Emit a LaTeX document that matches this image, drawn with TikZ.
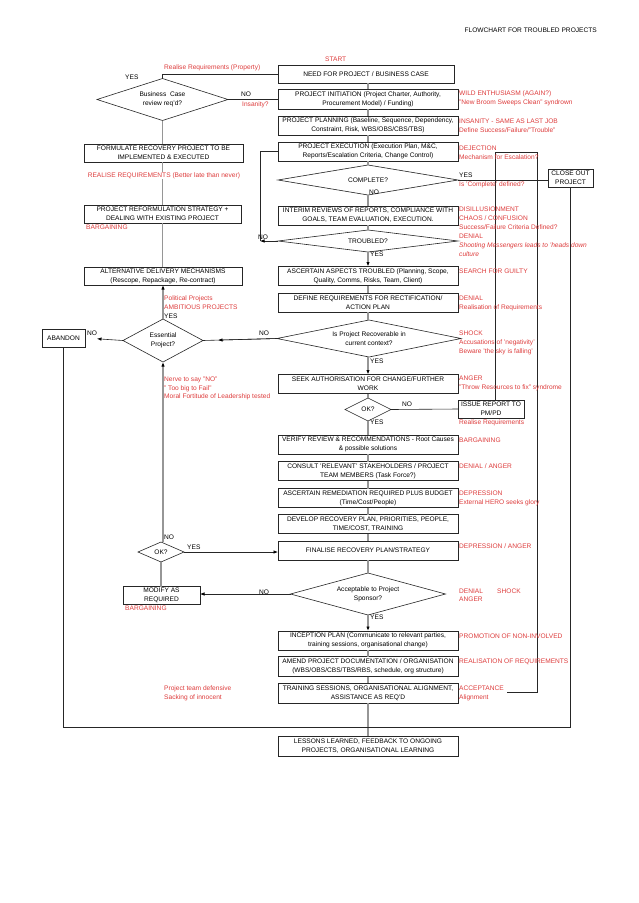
\documentclass[tikz,border=0pt]{standalone}
\usepackage{fontspec}
\setmainfont{Liberation Sans}
\usetikzlibrary{shapes.geometric,arrows.meta}
\definecolor{rd}{RGB}{222,60,60}
\definecolor{trunkgray}{RGB}{150,150,150}
\newcommand\redlab[4]{\node[lbl] (#1) at (#2,#3+2.4) {#4};}
\newcommand\blklab[4]{\node[blbl] (#1) at (#2,#3+2.4) {#4};}
\tikzset{
  fnt/.style={font=\fontsize{6.6}{9.2}\selectfont},
  box/.style={draw=black!85, line width=0.6pt, fnt, align=center, inner sep=0pt, outer sep=0pt, minimum width=180pt, minimum height=19pt},
  dia/.style={draw=black!85, line width=0.6pt, diamond, fnt, align=center, inner sep=0pt, outer sep=0pt},
  lbl/.style={fnt, text=rd, anchor=base west, inner sep=0pt},
  blbl/.style={fnt, text=black, anchor=base west, inner sep=0pt},
  trunk/.style={draw=trunkgray, line width=1.1pt},
  conn/.style={draw=black!85, line width=0.6pt},
  arr/.style={-{Latex[length=4.5pt,width=3.4pt,color=black]}},
}
\begin{document}
\begin{tikzpicture}[x=1pt,y=-1pt]
\fill[white] (0,0) rectangle (638,903);
\useasboundingbox (0,0) rectangle (638,903);

\node[fnt, anchor=base east, inner sep=0pt] (title) at (597,32.4) {FLOWCHART FOR TROUBLED PROJECTS};

% ---------- main column ----------
\node[box, minimum width=176pt, minimum height=18pt] (need) at (366,74) {NEED FOR PROJECT / BUSINESS CASE};
\node[box, minimum height=20pt] (init) at (368,99) {PROJECT INITIATION (Project Charter, Authority,\\Procurement Model) / Funding)};
\node[box] (plan) at (368,125.5) {PROJECT PLANNING (Baseline, Sequence, Dependency,\\Constraint, Risk, WBS/OBS/CBS/TBS)};
\node[box] (exec) at (368,151.5) {PROJECT EXECUTION (Execution Plan, M\&C,\\Reports/Escalation Criteria, Change Control)};
\node[dia, aspect=6, minimum width=180pt, minimum height=30pt] (complete) at (368,180) {COMPLETE?};
\node[box] (interim) at (368,215.5) {INTERIM REVIEWS OF REPORTS, COMPLIANCE WITH\\GOALS, TEAM EVALUATION, EXECUTION.};
\node[dia, aspect=8, minimum width=180pt, minimum height=22pt] (troubled) at (368,241) {TROUBLED?};
\node[box] (ascert) at (368,276) {ASCERTAIN ASPECTS TROUBLED (Planning, Scope,\\Quality, Comms, Risks, Team, Client)};
\node[box] (define) at (368,302.5) {DEFINE REQUIREMENTS FOR RECTIFICATION/\\ACTION PLAN};
\node[dia, aspect=5, minimum width=184pt, minimum height=37pt] (recov) at (369,338.5) {Is Project Recoverable in\\current context?};
\node[box] (seek) at (368,384) {SEEK AUTHORISATION FOR CHANGE/FURTHER\\WORK};
\node[dia, aspect=2, minimum width=46pt, minimum height=23pt] (ok1) at (368,409.5) {OK?};
\node[box, minimum width=66pt, minimum height=18pt] (issue) at (491,409) {ISSUE REPORT TO\\PM/PD};
\node[box] (verify) at (368,444.5) {VERIFY REVIEW \& RECOMMENDATIONS - Root Causes\\\& possible solutions};
\node[box] (consult) at (368,471) {CONSULT 'RELEVANT' STAKEHOLDERS / PROJECT\\TEAM MEMBERS (Task Force?)};
\node[box] (remed) at (368,498) {ASCERTAIN REMEDIATION REQUIRED PLUS BUDGET\\(Time/Cost/People)};
\node[box] (develop) at (368,524) {DEVELOP RECOVERY PLAN, PRIORITIES, PEOPLE,\\TIME/COST, TRAINING};
\node[box] (finalise) at (368,550.5) {FINALISE RECOVERY PLAN/STRATEGY};
\node[dia, aspect=4, minimum width=155pt, minimum height=42pt] (accept) at (368,594) {Acceptable to Project\\Sponsor?};
\node[box] (inception) at (368,640.5) {INCEPTION PLAN (Communicate to relevant parties,\\training sessions, organisational change)};
\node[box, minimum height=20pt] (amend) at (368,666.5) {AMEND PROJECT DOCUMENTATION / ORGANISATION\\(WBS/OBS/CBS/TBS/RBS, schedule, org structure)};
\node[box, minimum height=20pt] (training) at (368,693) {TRAINING SESSIONS, ORGANISATIONAL ALIGNMENT,\\ASSISTANCE AS REQ'D};
\node[box, minimum height=20pt] (lessons) at (368,746) {LESSONS LEARNED, FEEDBACK TO ONGOING\\PROJECTS, ORGANISATIONAL LEARNING};

% ---------- left column ----------
\node[dia, aspect=3, minimum width=131pt, minimum height=42pt] (bc) at (162.5,99.5) {Business\ \ Case\\review req'd?};
\node[box, minimum width=159pt, minimum height=18pt] (formulate) at (163.5,153) {FORMULATE RECOVERY PROJECT TO BE\\IMPLEMENTED \& EXECUTED};
\node[box, minimum width=157pt, minimum height=18pt] (reform) at (162.5,214) {PROJECT REFORMULATION STRATEGY +\\DEALING WITH EXISTING PROJECT};
\node[box, minimum width=158pt, minimum height=18pt] (alt) at (163,276) {ALTERNATIVE DELIVERY MECHANISMS\\(Rescope, Repackage, Re-contract)};
\node[dia, aspect=2, minimum width=80pt, minimum height=43pt] (ess) at (163,340.5) {Essential\\Project?};
\node[box, minimum width=43pt, minimum height=18pt] (abandon) at (63.5,338) {ABANDON};
\node[dia, aspect=2, minimum width=46pt, minimum height=20pt] (ok2) at (161,552) {OK?};
\node[box, minimum width=77pt, minimum height=18pt, font=\fontsize{6.6}{8.6}\selectfont] (modify) at (161.5,595.5) {MODIFY AS\\REQUIRED};
\node[box, minimum width=45pt, minimum height=18pt] (closeout) at (570.5,178) {CLOSE OUT\\PROJECT};

% ---------- trunk connectors ----------
\draw[trunk] (init.north) -- (init.north |- need.south);
\draw[trunk] (init.south) -- (plan.north);
\draw[trunk] (plan.south) -- (exec.north);
\draw[trunk] (exec.south) -- (complete.north);
\draw[trunk] (complete.south) -- (interim.north);
\draw[trunk] (interim.south) -- (troubled.north);
\draw[trunk, arr] (troubled.south) -- (ascert.north);
\draw[trunk] (ascert.south) -- (define.north);
\draw[trunk] (define.south) -- (define.south |- recov.north);
\draw[trunk, arr] (seek.north |- recov.south) -- (seek.north);
\draw[trunk] (seek.south) -- (ok1.north);
\draw[trunk] (ok1.south) -- (verify.north);
\draw[trunk] (verify.south) -- (consult.north);
\draw[trunk] (consult.south) -- (remed.north);
\draw[trunk] (remed.south) -- (develop.north);
\draw[trunk] (develop.south) -- (finalise.north);
\draw[trunk] (finalise.south) -- (accept.north);
\draw[trunk, arr] (accept.south) -- (inception.north);
\draw[trunk] (inception.south) -- (amend.north);
\draw[trunk] (amend.south) -- (training.north);
\draw[trunk] (training.south) -- (lessons.north);

% left trunk
\draw[trunk] (bc.south) -- (bc.south |- formulate.north);
\draw[trunk] (bc.south |- formulate.south) -- (bc.south |- reform.north);
\draw[trunk] (bc.south |- reform.south) -- (bc.south |- alt.north);
\draw[trunk, arr] (ess.north) -- (ess.north |- alt.south);
\draw[trunk, arr] (ok2.north -| ess.south) -- (ess.south);
\draw[trunk] (modify.north -| ok2.south) -- (ok2.south);

% ---------- other connectors ----------
\draw[conn] (bc.north) |- (need.west);
\draw[conn] (bc.east) -- (bc.east -| init.west);
\draw[conn] (complete.east) -- (complete.east -| closeout.west);
\coordinate (tl) at (260,241);
\draw[conn, arr] (troubled.west) -- (tl);
\draw[conn] (tl) |- (exec.west);
\draw[conn] (recov.west) -- (ess.east);
\draw[conn, arr, shorten >=15pt] (recov.west) -- (ess.east);
\draw[conn, arr, shorten >=12pt] (ess.west) -- (abandon.east);
\draw[conn] (ok1.east) -- (issue.west);
\draw[conn, arr] (ok2.east) -- (ok2.east -| finalise.west);
\draw[conn, arr] (accept.west) -- (accept.west -| modify.east);

% right feedback lines
\coordinate (fa) at (495,152);
\coordinate (fb) at (537,152);
\coordinate (fc) at (537,692);
\coordinate (fd) at (507,692);
\draw[conn] (fa) -- (fb) -- (fc) -- (fd);
\draw[conn] (fa) -- (fa |- issue.north);

% bottom collector
\coordinate (jy) at (0,727);
\draw[conn] (abandon.south) -- (abandon.south |- jy) -- (closeout.south |- jy) -- (closeout.south);

% ---------- labels ----------
\redlab{lstart}{325}{59}{START}
\redlab{lrrp}{164}{67}{Realise Requirements (Property)}
\blklab{lyes1}{125}{77}{YES}
\blklab{lno1}{241}{94}{NO}
\redlab{lins}{242}{104}{Insanity?}
\node[lbl, fill=white, inner sep=0.6pt] (lrr) at (87,175+2.4) {REALISE REQUIREMENTS (Better late than never)};
\redlab{lbarg1}{86}{227}{BARGAINING}
\redlab{lpol}{164}{298}{Political Projects}
\redlab{lamb}{164}{307}{AMBITIOUS PROJECTS}
\blklab{lyes2}{164}{316}{YES}
\blklab{lno2}{87}{333}{NO}
\blklab{lno3}{259}{333}{NO}
\redlab{lnerve}{164}{379}{Nerve to say "NO"}
\redlab{ltoo}{164}{388}{" Too big to Fail"}
\redlab{lmoral}{164}{396}{Moral Fortitude of Leadership tested}
\blklab{lno4}{164}{537}{NO}
\blklab{lyes3}{187}{547}{YES}
\blklab{lno5}{259}{592}{NO}
\redlab{lbarg2}{125}{608}{BARGAINING}
\redlab{ldef}{164}{688}{Project team defensive}
\redlab{lsack}{164}{697}{Sacking of innocent}

\blklab{lno6}{369}{192}{NO}
\blklab{lno7}{258}{237}{NO}
\blklab{lyes4}{370}{254}{YES}
\blklab{lyes5}{370}{361}{YES}
\blklab{lno8}{402}{404}{NO}
\blklab{lyes6}{370}{422}{YES}
\blklab{lyes7}{370}{617}{YES}

\redlab{r1}{459}{93}{WILD ENTHUSIASM (AGAIN?)}
\redlab{r2}{459}{102.5}{"New Broom Sweeps Clean" syndrown}
\redlab{r3}{459}{121.5}{INSANITY - SAME AS LAST JOB}
\redlab{r4}{459}{130.5}{Define Success/Failure/"Trouble"}
\redlab{r5}{459}{148}{DEJECTION}
\redlab{r6}{459}{157}{Mechanism for Escalation?}
\blklab{r7}{459}{175}{YES}
\redlab{r8}{459}{184}{Is 'Complete' defined?}
\redlab{r9}{459}{209}{DISILLUSIONMENT}
\redlab{r10}{459}{218}{CHAOS / CONFUSION}
\redlab{r11}{459}{227}{Success/Failure Criteria Defined?}
\redlab{r12}{459}{236}{DENIAL}
\redlab{r13}{459}{245.5}{\itshape Shooting Messengers leads to 'heads down}
\redlab{r14}{459}{254}{\itshape culture}
\redlab{r15}{459}{271}{SEARCH FOR GUILTY}
\redlab{r16}{459}{298}{DENIAL}
\redlab{r17}{459}{307}{Realisation of Requirements}
\redlab{r18}{459}{333}{SHOCK}
\redlab{r19}{459}{342}{Accusations of 'negativity'}
\redlab{r20}{459}{351.5}{Beware 'the sky is falling'}
\redlab{r21}{459}{378}{ANGER}
\redlab{r22}{459}{387}{"Throw Resources to fix" syndrome}
\redlab{r23}{459}{422.5}{Realise Requirements}
\redlab{r24}{459}{440.5}{BARGAINING}
\redlab{r25}{459}{466.5}{DENIAL / ANGER}
\redlab{r26}{459}{493}{DEPRESSION}
\redlab{r27}{459}{502}{External HERO seeks glory}
\redlab{r28}{459}{546.5}{DEPRESSION / ANGER}
\redlab{r29}{459}{591.5}{DENIAL}
\redlab{r30}{497}{591.5}{SHOCK}
\redlab{r31}{459}{599.5}{ANGER}
\redlab{r32}{459}{636}{PROMOTION OF NON-INVOLVED}
\redlab{r33}{459}{661}{REALISATION OF REQUIREMENTS}
\redlab{r34}{459}{688}{ACCEPTANCE}
\redlab{r35}{459}{697}{Alignment}
\end{tikzpicture}
\end{document}
